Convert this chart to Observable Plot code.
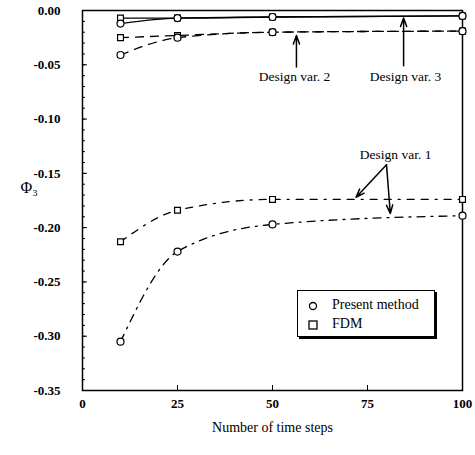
<!DOCTYPE html>
<html><head><meta charset="utf-8">
<script src="https://cdn.jsdelivr.net/npm/d3@7"></script>
<script src="https://cdn.jsdelivr.net/npm/@observablehq/plot@0.6"></script>
<style>
body{margin:0;background:#fff;font-family:"Liberation Serif","DejaVu Serif",serif;}
#wrap{position:relative;width:475px;height:455px;}
#legend{position:absolute;left:297px;top:290px;width:138px;height:47px;border:1.5px solid #000;box-shadow:2px 2px 0 #000;background:#fff;box-sizing:border-box;font-size:14px;color:#000;}
#legend .row{position:absolute;left:10px;height:16px;line-height:16px;white-space:nowrap;}
#legend svg{vertical-align:middle;margin-right:14px;}
</style>
</head><body>
<div id="wrap"></div>
<script>
// ---- data ----
const steps = [10, 25, 50, 100];
const dv1Present = [-0.305, -0.222, -0.197, -0.189];
const dv1FDM     = [-0.213, -0.184, -0.174, -0.174];
const dv2Present = [-0.041, -0.025, -0.020, -0.019];
const dv2FDM     = [-0.025, -0.023, -0.020, -0.019];
const dv3Present = [-0.012, -0.007, -0.006, -0.005];
const dv3FDM     = [-0.007, -0.007, -0.006, -0.005];
const xTicks = [0, 25, 50, 75, 100];
const yTicks = [0, -0.05, -0.10, -0.15, -0.20, -0.25, -0.30, -0.35];
const yMinorTicks = d3.range(0, 36).map(i => -i / 100);
const xLabel = "Number of time steps";
const yLabel = "Φ₃";
const noteText = ["Design var. 2", "Design var. 3", "Design var. 1"];
const noteX = [55.8, 85, 82.4];
const noteY = [-0.061, -0.061, -0.133];
const arrowFrom = [[56.3, -0.052], [84.5, -0.051], [80, -0.142], [80, -0.142]];
const arrowTo   = [[56.3, -0.023], [84.5, -0.007], [72, -0.172], [81, -0.187]];
const legendLabels = ["Present method", "FDM"];

const toRows = vals => steps.map((s, i) => ({x: s, y: vals[i]}));
const notes = noteText.map((t, i) => ({text: t, x: noteX[i], y: noteY[i]}));
const arrows = arrowFrom.map((f, i) => ({x1: f[0], y1: f[1], x2: arrowTo[i][0], y2: arrowTo[i][1]}));

const lineOpts = {x: "x", y: "y", stroke: "#000", strokeWidth: 1.3, curve: "monotone-x"};
const allPresent = [dv1Present, dv2Present, dv3Present].flatMap(toRows);
const allFDM = [dv1FDM, dv2FDM, dv3FDM].flatMap(toRows);

const chart = Plot.plot({
  width: 475, height: 455,
  marginLeft: 82, marginRight: 13, marginTop: 10, marginBottom: 65,
  x: {domain: [0, 100]},
  y: {domain: [-0.35, 0]},
  style: {fontFamily: "'Liberation Serif','DejaVu Serif',serif", fontSize: "13px", color: "#000", background: "#fff"},
  marks: [
    Plot.axisY({ticks: yMinorTicks, tickSize: -3, text: null, strokeWidth: 1}),
    Plot.axisY({ticks: yTicks, tickSize: -5, tickPadding: 27, tickFormat: d => d.toFixed(2), label: null, fontWeight: "bold", fontSize: 13}),
    Plot.axisX({ticks: xTicks, tickSize: -5, tickPadding: 13, tickFormat: d => String(d), label: null, fontWeight: "bold", fontSize: 13}),
    Plot.text([xLabel], {frameAnchor: "bottom", dy: 41, fontSize: 14}),
    Plot.text([yLabel], {frameAnchor: "left", dx: -62, dy: -13, fontSize: 16}),
    Plot.frame({stroke: "#000", strokeWidth: 1.5}),
    Plot.line(toRows(dv3Present), {...lineOpts}),
    Plot.line(toRows(dv3FDM), {...lineOpts}),
    Plot.line(toRows(dv2Present), {...lineOpts, strokeDasharray: "8,7"}),
    Plot.line(toRows(dv2FDM), {...lineOpts, strokeDasharray: "8,7"}),
    Plot.line(toRows(dv1FDM), {...lineOpts, strokeDasharray: "7,7,7,7,2,7"}),
    Plot.line(toRows(dv1Present), {...lineOpts, strokeDasharray: "8,6,2,6"}),
    Plot.dot(allFDM, {x: "x", y: "y", symbol: "square", r: 3.3, fill: "#fff", stroke: "#000", strokeWidth: 1.2}),
    Plot.dot(allPresent, {x: "x", y: "y", symbol: "circle", r: 3.5, fill: "#fff", stroke: "#000", strokeWidth: 1.2}),
    Plot.arrow(arrows, {x1: "x1", y1: "y1", x2: "x2", y2: "y2", stroke: "#000", strokeWidth: 1.5, headLength: 9, headAngle: 40}),
    Plot.text(notes, {x: "x", y: "y", text: "text", fontSize: 13.5})
  ]
});
const wrap = document.getElementById("wrap");
wrap.appendChild(chart);

const legend = document.createElement("div");
legend.id = "legend";
legend.innerHTML = `
<div class="row" style="top:6px"><svg width="10" height="10"><circle cx="5" cy="5" r="3.5" fill="none" stroke="#000" stroke-width="1.3"/></svg>${legendLabels[0]}</div>
<div class="row" style="top:25px"><svg width="10" height="10"><rect x="1" y="1" width="8" height="8" fill="none" stroke="#000" stroke-width="1.3"/></svg>${legendLabels[1]}</div>`;
wrap.appendChild(legend);
</script>
</body></html>
